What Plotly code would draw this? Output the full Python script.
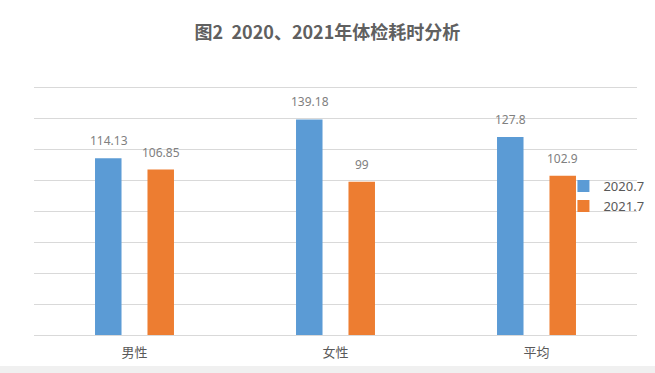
import plotly.graph_objects as go

categories = ["男性", "女性", "平均"]
series_names = ["2020.7", "2021.7"]
values_2020 = [114.13, 139.18, 127.8]
values_2021 = [106.85, 99, 102.9]
label_2020 = ["114.13", "139.18", "127.8"]
label_2021 = ["106.85", "99", "102.9"]

BLUE = "#5b9bd5"
ORANGE = "#ed7d31"
TEXT = "#595959"
LABEL = "#808080"
GRID = "#d9d9d9"
FONT = "Noto Sans CJK SC, Noto Sans, sans-serif"

fig = go.Figure()
fig.add_trace(go.Bar(x=categories, y=values_2020, name=series_names[0],
                     marker=dict(color=BLUE, line=dict(width=0))))
fig.add_trace(go.Bar(x=categories, y=values_2021, name=series_names[1],
                     marker=dict(color=ORANGE, line=dict(width=0))))

annotations = []
for cat, v, t in zip(categories, values_2020, label_2020):
    annotations.append(dict(x=cat, y=v, text=t, showarrow=False, xshift=-26,
                            yanchor="bottom", yshift=7,
                            font=dict(size=12, color=LABEL, family="Noto Sans, sans-serif")))
for cat, v, t in zip(categories, values_2021, label_2021):
    annotations.append(dict(x=cat, y=v, text=t, showarrow=False, xshift=26,
                            yanchor="bottom", yshift=7,
                            font=dict(size=12, color=LABEL, family="Noto Sans, sans-serif")))

fig.update_layout(
    width=655, height=373,
    margin=dict(l=34, r=18, t=81, b=38, autoexpand=False),
    paper_bgcolor="white", plot_bgcolor="white",
    barmode="group", bargap=0.478, bargroupgap=0.495,
    font=dict(family=FONT, color=TEXT),
    title=dict(text="图2  2020、2021年体检耗时分析", x=0.5, xanchor="center",
               y=1 - 33 / 373, yanchor="middle",
               font=dict(size=18, color="#606060", family=FONT, weight="bold")),
    xaxis=dict(showgrid=False, showline=False, ticks="", ticklabelstandoff=8,
               tickfont=dict(size=13, color=TEXT, family=FONT)),
    yaxis=dict(range=[0, 164], dtick=20, showgrid=True, gridcolor=GRID, gridwidth=1,
               zeroline=True, zerolinecolor=GRID, zerolinewidth=1,
               showticklabels=False, ticks="", showline=False),
    legend=dict(x=0.878, y=0.645, xanchor="left", yanchor="top",
                bgcolor="rgba(0,0,0,0)", font=dict(size=13, color=TEXT, family="Noto Sans, sans-serif"),
                itemwidth=30, tracegroupgap=0),
    annotations=annotations,
    showlegend=True,
)
fig.add_shape(type="rect", xref="paper", yref="paper", x0=-0.06, x1=1.04,
              y0=-(373 - 335) / 254, y1=-(366 - 335) / 254,
              fillcolor="#f0f0f0", line=dict(width=0), layer="below")
fig.write_html("out.html", config={"displayModeBar": False},
               post_script="document.body.style.margin='0';")
